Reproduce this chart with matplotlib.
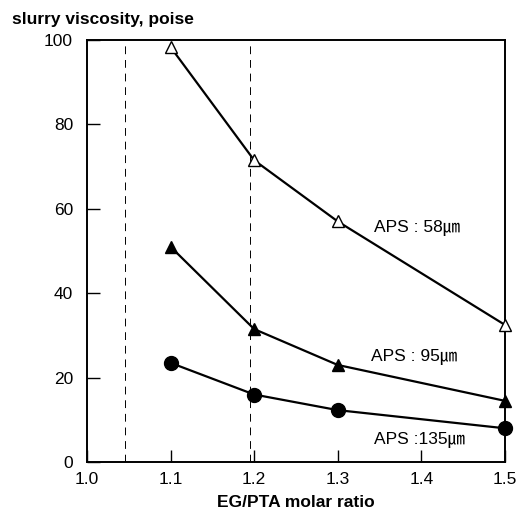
import matplotlib
matplotlib.use('Agg')
import matplotlib.pyplot as plt

plt.rcParams['font.family'] = ['Liberation Sans', 'Noto Sans CJK KR', 'DejaVu Sans']

# EG/PTA molar ratio
ratio = [1.1, 1.2, 1.3, 1.5]
# slurry viscosity (poise) for each particle size
aps58 = [98.3, 71.5, 57, 32.5]
aps95 = [51, 31.5, 23, 14.5]
aps135 = [23.5, 16, 12.3, 8]
dash_x = [1.045, 1.195]
xticks = [1.0, 1.1, 1.2, 1.3, 1.4, 1.5]
yticks = [0, 20, 40, 60, 80, 100]

fig = plt.figure(figsize=(5.32, 5.18), dpi=100)
ax = fig.add_axes([0.1635, 0.108, 0.7855, 0.815])

for xv in dash_x:
    ax.axvline(xv, color='black', lw=0.7, ls=(0, (8, 6)), zorder=1)

ax.plot(ratio, aps58, color='black', lw=1.6, marker='^', ms=9,
        mfc='white', mec='black', mew=1.0, zorder=3, clip_on=False)
ax.plot(ratio, aps95, color='black', lw=1.6, marker='^', ms=9,
        mfc='black', mec='black', zorder=3, clip_on=False)
ax.plot(ratio, aps135, color='black', lw=1.6, marker='o', ms=10,
        mfc='black', mec='black', zorder=3, clip_on=False)

ax.text(1.344, 55.5, 'APS : 58㎛', fontsize=12.5, va='center', ha='left')
ax.text(1.340, 24.8, 'APS : 95㎛', fontsize=12.5, va='center', ha='left')
ax.text(1.344, 5.2, 'APS :135㎛', fontsize=12.5, va='center', ha='left')

ax.set_xlim(1.0, 1.5)
ax.set_ylim(0, 100)
ax.set_xticks(xticks)
ax.set_xticklabels(['%.1f' % t for t in xticks])
ax.set_yticks(yticks)
ax.tick_params(direction='in', length=9, width=1.0, labelsize=12.5)
ax.tick_params(axis='x', pad=7)
ax.tick_params(axis='y', pad=10)
for s in ax.spines.values():
    s.set_linewidth(1.4)

ax.set_xlabel('EG/PTA molar ratio', fontsize=12.5, fontweight='bold', labelpad=6)
fig.text(0.022, 0.962, 'slurry viscosity, poise', fontsize=12.5, fontweight='bold',
         ha='left', va='center')

fig.savefig('out.png', dpi=100)
